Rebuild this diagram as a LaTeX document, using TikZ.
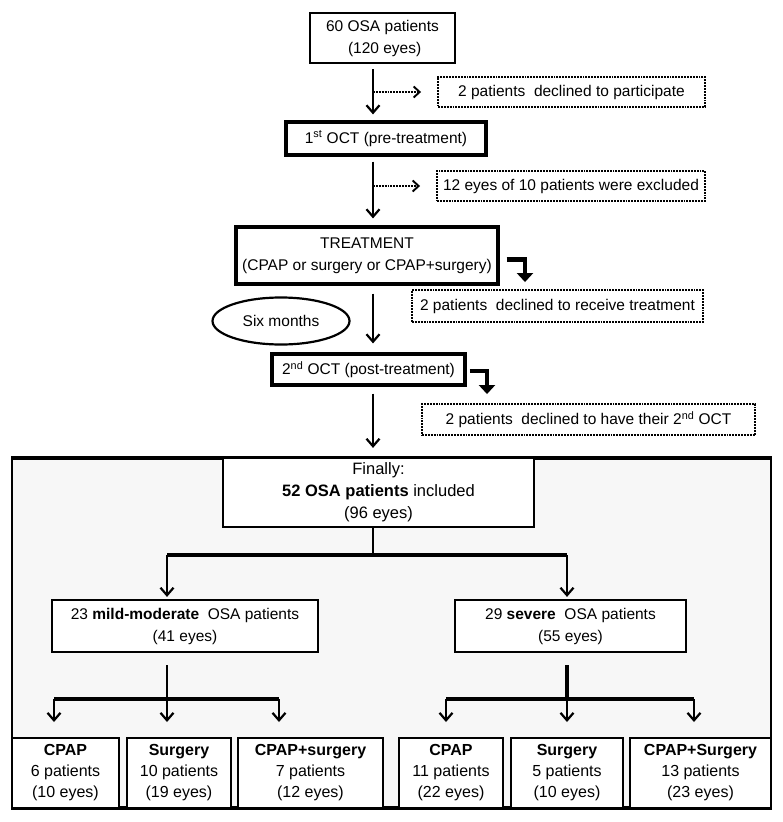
\documentclass[tikz,border=0pt]{standalone}
\usepackage{fontspec}
\setmainfont{Liberation Sans}
\usetikzlibrary{arrows.meta,shapes.geometric}
\begin{document}
\begin{tikzpicture}[x=1pt,y=-1pt,line join=miter,font=\fontsize{15.5}{22}\selectfont,
	box/.style={draw,line width=2.2pt,align=center,inner sep=0pt,fill=white},
	boldbox/.style={box,line width=3.2pt},
	dotbox/.style={draw,densely dotted,line width=1.9pt,inner sep=0pt,align=center},
	arr/.style={line width=2.3pt,-{Straight Barb[length=7.5pt,width=13pt,line width=2.2pt]}},
	thinarr/.style={arr,line width=1.6pt},
	dotarr/.style={densely dotted,line width=1.9pt,-{Straight Barb[length=6pt,width=11pt,line width=1.9pt]}},
	elbow/.style={line width=4.5pt,-{Triangle[length=9pt,width=16pt]}},
	fork/.style={line width=3.2pt}]
	\useasboundingbox (0,0) rectangle (783,822);
	\path
	(373,0) coordinate (axis)
	(167,555) coordinate (splitL)
	(567,555) coordinate (splitR)
	(167,699) coordinate (forkA)
	(567,699) coordinate (forkB)
	;
	\path[fill=black!3] (12,458) rectangle (771,808);
	\draw[line width=1.4pt] (12,458) -- (12,808) (771,458) -- (771,808);
	\draw[line width=3.2pt] (11,458) -- (772,458) (11,808) -- (772,808);
	\node[box,minimum width=145,minimum height=50] (start) at (382.5,38) {60 OSA patients\\\ (120 eyes)};
	\node[dotbox,minimum width=267,minimum height=30] (decl1) at (571.5,92) {2 patients\ \ declined to participate};
	\node[boldbox,minimum width=200,minimum height=33] (oct1) at (386,138.5) {1\textsuperscript{st} OCT (pre-treatment)};
	\node[dotbox,minimum width=268,minimum height=30] (decl2) at (571,186) {12 eyes of 10 patients\ were excluded};
	\node[boldbox,minimum width=262,minimum height=57] (treat) at (367,255.5) {TREATMENT\\(CPAP or surgery or CPAP+surgery)};
	\node[dotbox,minimum width=291,minimum height=32] (decl3) at (557.5,306) {2 patients\ \ declined\ to\ receive\ treatment};
	\node[draw,ellipse,line width=2.2pt,inner sep=0pt,minimum width=137,minimum height=47] (six) at (281,321) {Six months};
	\node[boldbox,minimum width=193,minimum height=31] (oct2) at (368.5,369.5) {2\textsuperscript{nd} OCT (post-treatment)};
	\node[dotbox,minimum width=333,minimum height=31] (decl4) at (588.5,419.5) {2 patients\ \ declined to have their 2\textsuperscript{nd} OCT};
	\node[box,minimum width=311,minimum height=69,font=\fontsize{16.5}{22}\selectfont] (final) at (378.5,492.5) {Finally:\\\textbf{52 OSA patients}\ included\\(96 eyes)};
	\node[box,minimum width=266,minimum height=52] (mild) at (185,626) {23 \textbf{mild-moderate}\ \ OSA patients\\(41 eyes)};
	\node[box,minimum width=231,minimum height=52] (severe) at (570.5,626) {29 \textbf{severe}\ \ OSA patients\\(55 eyes)};
	\foreach \name/\xa/\xb/\txt in {cpapA/12/119/{\textbf{CPAP}\\6 patients\\(10 eyes)},
		surgA/127/231/{\textbf{Surgery}\\10 patients\\(19 eyes)},
		bothA/238/383/{\textbf{CPAP+surgery}\\7 patients\\(12 eyes)},
		cpapB/399/503/{\textbf{CPAP}\\11 patients\\(22 eyes)},
		surgB/511/623/{\textbf{Surgery}\\5 patients\\(10 eyes)},
		bothB/630/771/{\textbf{CPAP+Surgery}\\13 patients\\(23 eyes)}}
	\node[box,line width=2.6pt,minimum width=\xb-\xa,minimum height=70,font=\fontsize{16}{21}\selectfont] (\name) at ({(\xa+\xb)/2},773) {\txt};
	\draw[arr,shorten <=5pt,shorten >=6pt] (start.south -| axis) -- (oct1.north -| axis);
	\draw[arr,shorten <=5pt,shorten >=7pt] (oct1.south -| axis) -- (treat.north -| axis);
	\draw[thinarr,shorten <=8pt,shorten >=9pt] (treat.south -| axis) -- (oct2.north -| axis);
	\draw[arr,shorten <=7pt,shorten >=9pt] (oct2.south -| axis) -- (final.north -| axis);
	\draw[dotarr,shorten >=16pt] (decl1.west -| axis) -- (decl1.west);
	\draw[dotarr,shorten >=16pt] (decl2.west -| axis) -- (decl2.west);
	\draw[elbow] ([xshift=7pt,yshift=-4pt]treat.east) -| ([xshift=-32.5pt,yshift=7pt]decl3.north);
	\draw[elbow] ([xshift=3pt,yshift=-1.5pt]oct2.east) -| ([xshift=-101.5pt,yshift=9pt]decl4.north);
	\draw[line width=2.2pt] (final.south -| axis) -- (splitL -| axis);
	\draw[fork] (splitL) -- (splitR);
	\draw[arr,shorten >=2pt] (splitL) -- (splitL |- mild.north);
	\draw[arr,shorten >=2pt] (splitR) -- (splitR |- severe.north);
	\draw[line width=2.6pt,shorten <=12pt] (mild.south -| forkA) -- (forkA);
	\draw[line width=3.6pt,shorten <=12pt] (severe.south -| forkB) -- (forkB);
	\draw[fork] (54,699) -- (279,699) (446,699) -- (694,699);
	\foreach \x in {54,167,279,446,567,694}
	\draw[arr,line width=2.2pt,shorten >=16pt] (\x,699) -- (\x,738);
\end{tikzpicture}
\end{document}
